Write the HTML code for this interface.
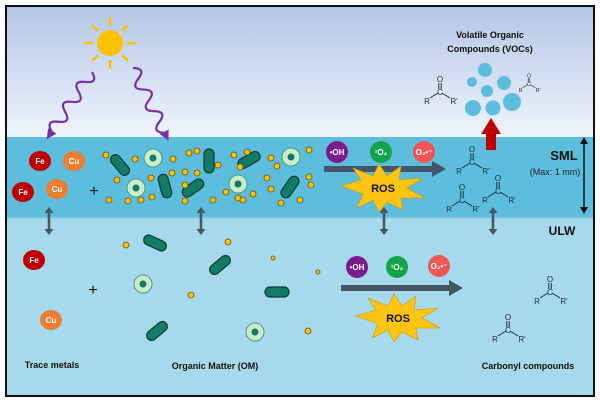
<!DOCTYPE html>
<html><head><meta charset="utf-8"><style>
body{margin:0;background:#fff}
svg{display:block;font-family:"Liberation Sans",sans-serif}
.b{font-weight:bold}
</style></head><body>
<svg width="600" height="402" viewBox="0 0 600 402" xmlns="http://www.w3.org/2000/svg">
<defs>
<linearGradient id="sky" x1="0" y1="0" x2="0" y2="1"><stop offset="0" stop-color="#b4c6e7"/><stop offset="1" stop-color="#eef4fa"/></linearGradient>
<g id="rod"><rect x="-12" y="-5" width="24" height="10" rx="5" fill="#137a66" stroke="#0d3d33" stroke-width="1.2"/></g>
<g id="cell"><circle r="9" fill="#cdebc9" stroke="#3a9f8a" stroke-width="1"/><circle r="3.5" fill="#137a66"/></g>
<g id="dot"><circle r="3" fill="#f9c10e" stroke="#6b5200" stroke-width="0.8"/></g>
<g id="carb" fill="none" stroke="#1f2d3d" stroke-width="1">
<line x1="-1.2" y1="-9" x2="-1.2" y2="-3"/><line x1="1.2" y1="-9" x2="1.2" y2="-3"/>
<line x1="-2" y1="1" x2="-10" y2="6"/><line x1="2" y1="1" x2="10" y2="6"/>
<text x="0" y="-10" font-size="8" text-anchor="middle" fill="#1f2d3d" stroke="none">O</text>
<text x="0" y="3" font-size="8" text-anchor="middle" fill="#1f2d3d" stroke="none">C</text>
<text x="-13" y="12" font-size="8" text-anchor="middle" fill="#1f2d3d" stroke="none">R</text>
<text x="14" y="12" font-size="8" text-anchor="middle" fill="#1f2d3d" stroke="none">R'</text>
</g>
<g id="dbl"><rect x="-1.3" y="-9" width="2.6" height="18" fill="#4a5566"/><path d="M-4.5,-8 L0,-14 L4.5,-8z M-4.5,8 L0,14 L4.5,8z" fill="#4a5566"/></g>
<path id="wave" d="M0,0 q6,-12 12,0 t12,0 t12,0 t12,0 t12,0 t12,0" fill="none" stroke="#7a2fa8" stroke-width="2.2"/>
</defs>
<rect x="6" y="6" width="588" height="390" fill="#a6d9eb" stroke="#111" stroke-width="2"/>
<rect x="7" y="7" width="586" height="130" fill="url(#sky)"/>
<rect x="7" y="137" width="586" height="80" fill="#5cbddc"/>
<rect x="7" y="217" width="586" height="2" fill="#8ccde4"/>

<!-- sun -->
<g stroke="#fcc100" stroke-width="2.5">
<line x1="110" y1="17" x2="110" y2="26"/><line x1="110" y1="60" x2="110" y2="69"/>
<line x1="84" y1="43" x2="93" y2="43"/><line x1="127" y1="43" x2="136" y2="43"/>
<line x1="92" y1="25" x2="98" y2="31"/><line x1="122" y1="55" x2="128" y2="61"/>
<line x1="128" y1="25" x2="122" y2="31"/><line x1="92" y1="61" x2="98" y2="55"/>
</g>
<circle cx="110" cy="43" r="13" fill="#fcc100"/>
<g transform="translate(92,72) rotate(124)"><use href="#wave"/><path d="M71,-5 L81,0 L71,5z" fill="#7a2fa8"/></g>
<g transform="translate(133,68) rotate(64)"><use href="#wave"/><path d="M71,-5 L81,0 L71,5z" fill="#7a2fa8"/></g>

<!-- metals -->
<g font-size="8" font-weight="bold" fill="#fff" text-anchor="middle">
<ellipse cx="40" cy="161" rx="11" ry="10" fill="#c00000"/><text x="40" y="164">Fe</text>
<ellipse cx="74" cy="161" rx="11" ry="10" fill="#ed7d31"/><text x="74" y="164">Cu</text>
<ellipse cx="23" cy="192" rx="11" ry="10" fill="#c00000"/><text x="23" y="195">Fe</text>
<ellipse cx="57" cy="189" rx="11" ry="10" fill="#ed7d31"/><text x="57" y="192">Cu</text>
<ellipse cx="34" cy="260" rx="11" ry="10" fill="#c00000"/><text x="34" y="263">Fe</text>
<ellipse cx="51" cy="320" rx="11" ry="10" fill="#ed7d31"/><text x="51" y="323">Cu</text>
</g>
<g font-size="16" text-anchor="middle" fill="#111"><text x="94" y="196">+</text><text x="93" y="295">+</text></g>

<!-- SML organic matter -->
<use href="#rod" transform="translate(120,165) rotate(50)"/>
<use href="#rod" transform="translate(165,186) rotate(75)"/>
<use href="#rod" transform="translate(209,161) rotate(90)"/>
<use href="#rod" transform="translate(193,188) rotate(-35)"/>
<use href="#rod" transform="translate(249,160) rotate(-30)"/>
<use href="#rod" transform="translate(290,187) rotate(-55)"/>
<use href="#cell" x="153" y="158"/><use href="#cell" x="136" y="188"/><use href="#cell" x="238" y="184"/><use href="#cell" x="291" y="157"/>
<g>
<use href="#dot" x="106" y="155"/><use href="#dot" x="135" y="159"/><use href="#dot" x="173" y="159"/><use href="#dot" x="189" y="153"/><use href="#dot" x="197" y="151"/>
<use href="#dot" x="117" y="180"/><use href="#dot" x="151" y="178"/><use href="#dot" x="172" y="173"/><use href="#dot" x="185" y="172"/><use href="#dot" x="185" y="185"/>
<use href="#dot" x="197" y="173"/><use href="#dot" x="218" y="165"/><use href="#dot" x="234" y="155"/><use href="#dot" x="240" y="167"/><use href="#dot" x="247" y="152"/>
<use href="#dot" x="271" y="158"/><use href="#dot" x="277" y="166"/><use href="#dot" x="267" y="178"/><use href="#dot" x="271" y="189"/><use href="#dot" x="238" y="198"/>
<use href="#dot" x="213" y="200"/><use href="#dot" x="226" y="192"/><use href="#dot" x="253" y="194"/><use href="#dot" x="281" y="203"/><use href="#dot" x="309" y="150"/>
<use href="#dot" x="311" y="185"/><use href="#dot" x="309" y="177"/><use href="#dot" x="141" y="200"/><use href="#dot" x="152" y="197"/><use href="#dot" x="109" y="200"/>
<use href="#dot" x="128" y="201"/><use href="#dot" x="185" y="201"/><use href="#dot" x="243" y="200"/><use href="#dot" x="300" y="200"/>
</g>

<!-- ULW organic matter -->
<use href="#rod" transform="translate(155,243) rotate(25)"/>
<use href="#rod" transform="translate(220,265) rotate(-40)"/>
<use href="#rod" transform="translate(277,292)"/>
<use href="#rod" transform="translate(157,331) rotate(-40)"/>
<use href="#cell" x="143" y="284"/><use href="#cell" x="255" y="332"/>
<use href="#dot" x="126" y="245"/><use href="#dot" x="228" y="242"/><use href="#dot" x="191" y="295"/><use href="#dot" x="308" y="331"/>
<g fill="#f9c10e" stroke="#6b5200" stroke-width="0.8"><circle cx="273" cy="258" r="2"/><circle cx="318" cy="272" r="2"/></g>

<!-- double arrows -->
<use href="#dbl" x="49" y="221"/>
<use href="#dbl" x="201" y="221"/>
<use href="#dbl" x="384" y="221"/>
<use href="#dbl" x="493" y="221"/>
<g stroke="#111" stroke-width="1.5"><line x1="584" y1="142" x2="584" y2="209"/></g>
<path d="M580,144 L584,137 L588,144z M580,207 L584,214 L588,207z" fill="#111"/>

<!-- radicals -->
<g font-size="8" font-weight="bold" fill="#fff" text-anchor="middle">
<ellipse cx="337" cy="152" rx="11" ry="11" fill="#7b1a8c"/><text x="337" y="155">•OH</text>
<ellipse cx="381" cy="152" rx="11" ry="11" fill="#12a44a"/><text x="381" y="155">¹O₂</text>
<ellipse cx="424" cy="152" rx="11" ry="11" fill="#f05555"/><text x="424" y="155">O₂•⁻</text>
<ellipse cx="357" cy="267" rx="11" ry="11" fill="#7b1a8c"/><text x="357" y="270">•OH</text>
<ellipse cx="397" cy="267" rx="11" ry="11" fill="#12a44a"/><text x="397" y="270">¹O₂</text>
<ellipse cx="439" cy="266" rx="11" ry="11" fill="#f05555"/><text x="439" y="269">O₂•⁻</text>
</g>
<rect x="324" y="166" width="110" height="6" fill="#44556a"/><path d="M432,161 L446,169 L432,177z" fill="#44556a"/>
<rect x="341" y="285" width="110" height="6" fill="#44556a"/><path d="M449,280 L463,288 L449,296z" fill="#44556a"/>

<!-- ROS stars -->
<g fill="#fcc514" stroke="#c79a00" stroke-width="0.6">
<path transform="translate(383,188)" d="M-42,-2 L-22,-8 L-30,-20 L-10,-12 L-4,-24 L4,-12 L18,-22 L16,-8 L40,-10 L24,0 L42,10 L18,10 L20,22 L4,14 L-4,24 L-10,12 L-26,20 L-20,6z"/>
<path transform="translate(398,318)" d="M-42,-2 L-22,-8 L-30,-20 L-10,-12 L-4,-24 L4,-12 L18,-22 L16,-8 L40,-10 L24,0 L42,10 L18,10 L20,22 L4,14 L-4,24 L-10,12 L-26,20 L-20,6z"/>
</g>
<g class="b" font-size="11" text-anchor="middle" fill="#111"><text x="383" y="192">ROS</text><text x="398" y="322">ROS</text></g>

<!-- carbonyls -->
<use href="#carb" transform="translate(472,162)"/>
<use href="#carb" transform="translate(462,200)"/>
<use href="#carb" transform="translate(498,191)"/>
<use href="#carb" transform="translate(440,92)"/>
<use href="#carb" transform="translate(529,84) scale(0.65)"/>
<use href="#carb" transform="translate(550,292)"/>
<use href="#carb" transform="translate(508,330)"/>

<!-- bubbles & red arrow -->
<g fill="#5cbddc">
<circle cx="485" cy="70" r="7"/><circle cx="472" cy="82" r="5"/><circle cx="487" cy="91" r="6"/>
<circle cx="504" cy="83" r="7"/><circle cx="512" cy="102" r="9"/><circle cx="473" cy="108" r="8"/><circle cx="493" cy="108" r="7.5"/>
</g>
<rect x="486" y="133" width="10" height="17" fill="#c00000"/><path d="M481,134 L491,118 L501,134z" fill="#c00000"/>

<!-- labels -->
<g class="b" font-size="9" fill="#111" text-anchor="middle">
<text x="490" y="38">Volatile Organic</text><text x="490" y="52">Compounds (VOCs)</text>
<text x="52" y="368">Trace metals</text><text x="215" y="369">Organic Matter (OM)</text>
<text x="528" y="369">Carbonyl compounds</text>
</g>
<text class="b" x="564" y="160" font-size="13" fill="#111" text-anchor="middle">SML</text>
<text x="555" y="175" font-size="9" fill="#222" text-anchor="middle">(Max: 1 mm)</text>
<text class="b" x="562" y="235" font-size="12" fill="#111" text-anchor="middle">ULW</text>
</svg>
</body></html>
